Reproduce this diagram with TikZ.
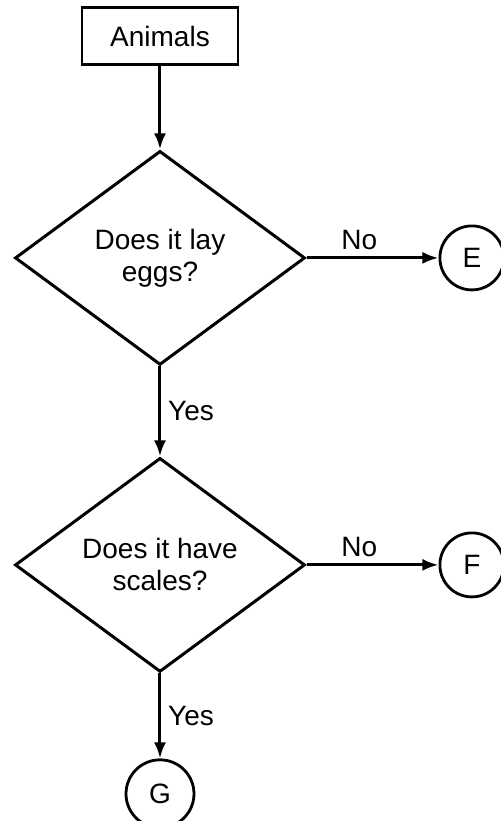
\documentclass[tikz,border=0pt]{standalone}
\usepackage{fontspec}
\setmainfont{Liberation Sans}
\usetikzlibrary{positioning,shapes.geometric,arrows.meta}
\tikzset{group/.style={rectangle, draw=black, line width=1.4pt, minimum width=78pt, minimum height=28.5pt, text centered, text=black},
       question/.style={diamond, draw=black, line width=1.5pt, inner sep=0pt, minimum width=145pt, minimum height=107pt, align=center, text=black},
       leaf/.style={circle, draw=black, line width=1.4pt, inner sep=0pt, minimum size=32pt, text centered, text=black}}

\begin{document}
\begin{tikzpicture}[node distance=41.75pt, font=\fontsize{14}{16}\selectfont, line width=1.5pt, >={Latex[length=8pt,width=6pt]}]
\useasboundingbox (-80pt,18pt) rectangle (170pt,-392.5pt);
\node [group] (animals) {Animals};
\node [question, below=of animals] (eggs) {Does it lay\\eggs?};
\node [leaf, right=66pt of eggs] (e) {E};
\node [question, below=45pt of eggs] (scales) {Does it have\\scales?};
\node [leaf, right=66pt of scales] (f) {F};
\node [leaf, minimum size=34pt, below=42.5pt of scales] (g) {G};
\draw [->] (animals) -- (eggs);
\draw [->] (eggs) -- node [above, pos=0.4] {No} (e);
\draw [->] (eggs) -- node [right] {Yes} (scales);
\draw [->] (scales) -- node [above, pos=0.4] {No} (f);
\draw [->] (scales) -- node [right] {Yes} (g);
\end{tikzpicture}
\end{document}
